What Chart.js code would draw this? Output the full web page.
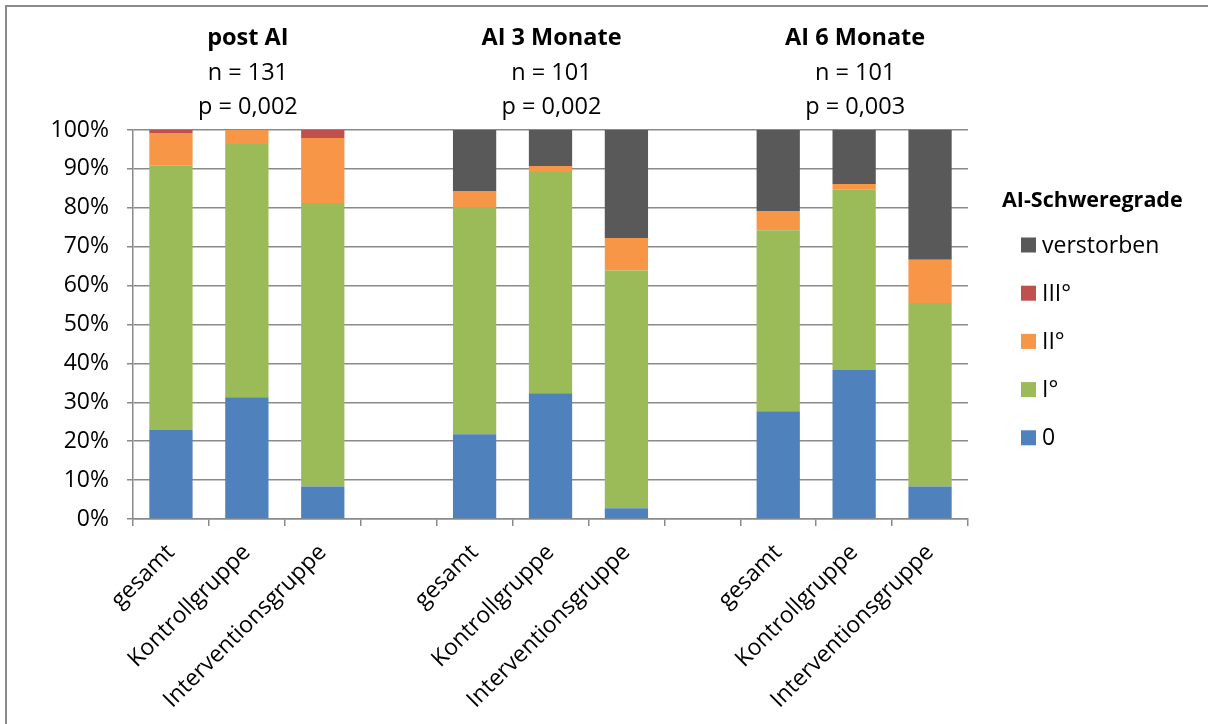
<!DOCTYPE html>
<html>
<head>
<meta charset="utf-8">
<script src="https://cdn.jsdelivr.net/npm/chart.js@4.4.1/dist/chart.umd.min.js"></script>
<style>
  html, body { margin: 0; padding: 0; background: #fff; }
  #wrap { width: 1208px; height: 724px; position: relative; }
</style>
</head>
<body>
<div id="wrap"><canvas id="c" width="1208" height="724"></canvas></div>
<script>
// Categories: three time points, each with gesamt / Kontroll / Intervention, separated by empty slots
const categories = [
  'gesamt', 'Kontrollgruppe', 'Interventionsgruppe', '',
  'gesamt', 'Kontrollgruppe', 'Interventionsgruppe', '',
  'gesamt', 'Kontrollgruppe', 'Interventionsgruppe'
];

// Share of patients per severity grade (%)
const grade0    = [22.90, 31.33,  8.33, null, 21.78, 32.31,  2.78, null, 27.72, 38.46,  8.33];
const grade1    = [67.94, 65.06, 72.92, null, 58.42, 56.92, 61.11, null, 46.53, 46.15, 47.22];
const grade2    = [ 8.40,  3.61, 16.67, null,  3.96,  1.54,  8.33, null,  4.95,  1.54, 11.11];
const grade3    = [ 0.76,  0.00,  2.08, null,  0.00,  0.00,  0.00, null,  0.00,  0.00,  0.00];
const deceased  = [ 0.00,  0.00,  0.00, null, 15.84,  9.23, 27.78, null, 20.79, 13.85, 33.33];

const yTicks = [0, 10, 20, 30, 40, 50, 60, 70, 80, 90, 100];

// Group headers, placed above the middle category of each group
const groupTitles = ['post AI', 'AI 3 Monate', 'AI 6 Monate'];
const groupN      = ['n = 131', 'n = 101', 'n = 101'];
const groupP      = ['p = 0,002', 'p = 0,002', 'p = 0,003'];
const groupMiddle = [1, 5, 9];

const legendTitle = 'AI-Schweregrade';

const FONT = "'Open Sans', 'DejaVu Sans', sans-serif";
const GRID = '#8a8a8a';

const datasets = [
  { label: '0',          data: grade0,   backgroundColor: '#4F81BD' },
  { label: 'I°',         data: grade1,   backgroundColor: '#9BBB59' },
  { label: 'II°',        data: grade2,   backgroundColor: '#F79646' },
  { label: 'III°',       data: grade3,   backgroundColor: '#C0504D' },
  { label: 'verstorben', data: deceased, backgroundColor: '#595959' }
].map(d => Object.assign(d, { barPercentage: 0.57, categoryPercentage: 1.0, borderWidth: 0 }));

// Frame line along the top and left edge
const framePlugin = {
  id: 'frame',
  beforeDraw(chart) {
    const ctx = chart.ctx;
    ctx.save();
    ctx.fillStyle = '#fff';
    ctx.fillRect(0, 0, chart.width, chart.height);
    ctx.fillStyle = GRID;
    ctx.fillRect(5, 5, chart.width - 5, 2);
    ctx.fillRect(5, 5, 2, chart.height - 5);
    ctx.restore();
  }
};

// Group headers above the plot
const headerPlugin = {
  id: 'headers',
  afterDraw(chart) {
    const ctx = chart.ctx;
    const xs = chart.scales.x;
    ctx.save();
    ctx.fillStyle = '#000';
    ctx.textAlign = 'center';
    ctx.textBaseline = 'middle';
    groupTitles.forEach((t, i) => {
      const x = xs.getPixelForValue(groupMiddle[i]) + 1;
      ctx.font = 'bold 23.5px ' + FONT;
      ctx.fillText(t, x, 38);
      ctx.font = '23.5px ' + FONT;
      ctx.fillText(groupN[i], x, 73);
      ctx.fillText(groupP[i], x, 107);
    });
    ctx.restore();
  }
};

// Legend on the right, listed top-down from the last series
const legendPlugin = {
  id: 'sideLegend',
  afterDraw(chart) {
    const ctx = chart.ctx;
    ctx.save();
    ctx.fillStyle = '#000';
    ctx.textBaseline = 'middle';
    ctx.textAlign = 'left';
    ctx.font = 'bold 21.5px ' + FONT;
    ctx.fillText(legendTitle, 1002, 201);
    ctx.font = '23px ' + FONT;
    const items = chart.data.datasets.slice().reverse();
    items.forEach((ds, i) => {
      const y = 245 + i * 48.2;
      ctx.fillStyle = ds.backgroundColor;
      ctx.fillRect(1021, y - 7.5, 15, 15);
      ctx.fillStyle = '#000';
      ctx.fillText(ds.label, 1042, y + 1);
    });
    ctx.restore();
  }
};

new Chart(document.getElementById('c'), {
  type: 'bar',
  data: { labels: categories, datasets },
  plugins: [framePlugin, headerPlugin, legendPlugin],
  options: {
    responsive: false,
    animation: false,
    devicePixelRatio: 1,
    layout: { padding: { top: 130, right: 240, left: 0, bottom: 0 } },
    plugins: {
      legend: { display: false },
      tooltip: { enabled: false },
      title: { display: false }
    },
    scales: {
      x: {
        stacked: true,
        afterFit(scale) { scale.height = 205; },
        grid: {
          display: true,
          drawOnChartArea: false,
          drawTicks: true,
          tickLength: 7,
          color: GRID,
          lineWidth: 1.5,
          offset: true
        },
        border: { display: true, color: GRID, width: 1.5 },
        ticks: {
          color: '#000',
          font: { family: FONT, size: 23 },
          minRotation: 45,
          maxRotation: 45,
          autoSkip: false,
          padding: 13
        }
      },
      y: {
        stacked: true,
        min: 0,
        max: 100,
        afterFit(scale) { scale.width = 133; },
        afterBuildTicks(scale) { scale.ticks = yTicks.map(v => ({ value: v })); },
        grid: {
          color: GRID,
          lineWidth: 1.5,
          drawTicks: true,
          tickLength: 6
        },
        border: { display: true, color: GRID, width: 1.5 },
        ticks: {
          color: '#000',
          font: { family: FONT, size: 23 },
          padding: 18,
          callback: v => v + '%'
        }
      }
    }
  }
});
</script>
</body>
</html>
